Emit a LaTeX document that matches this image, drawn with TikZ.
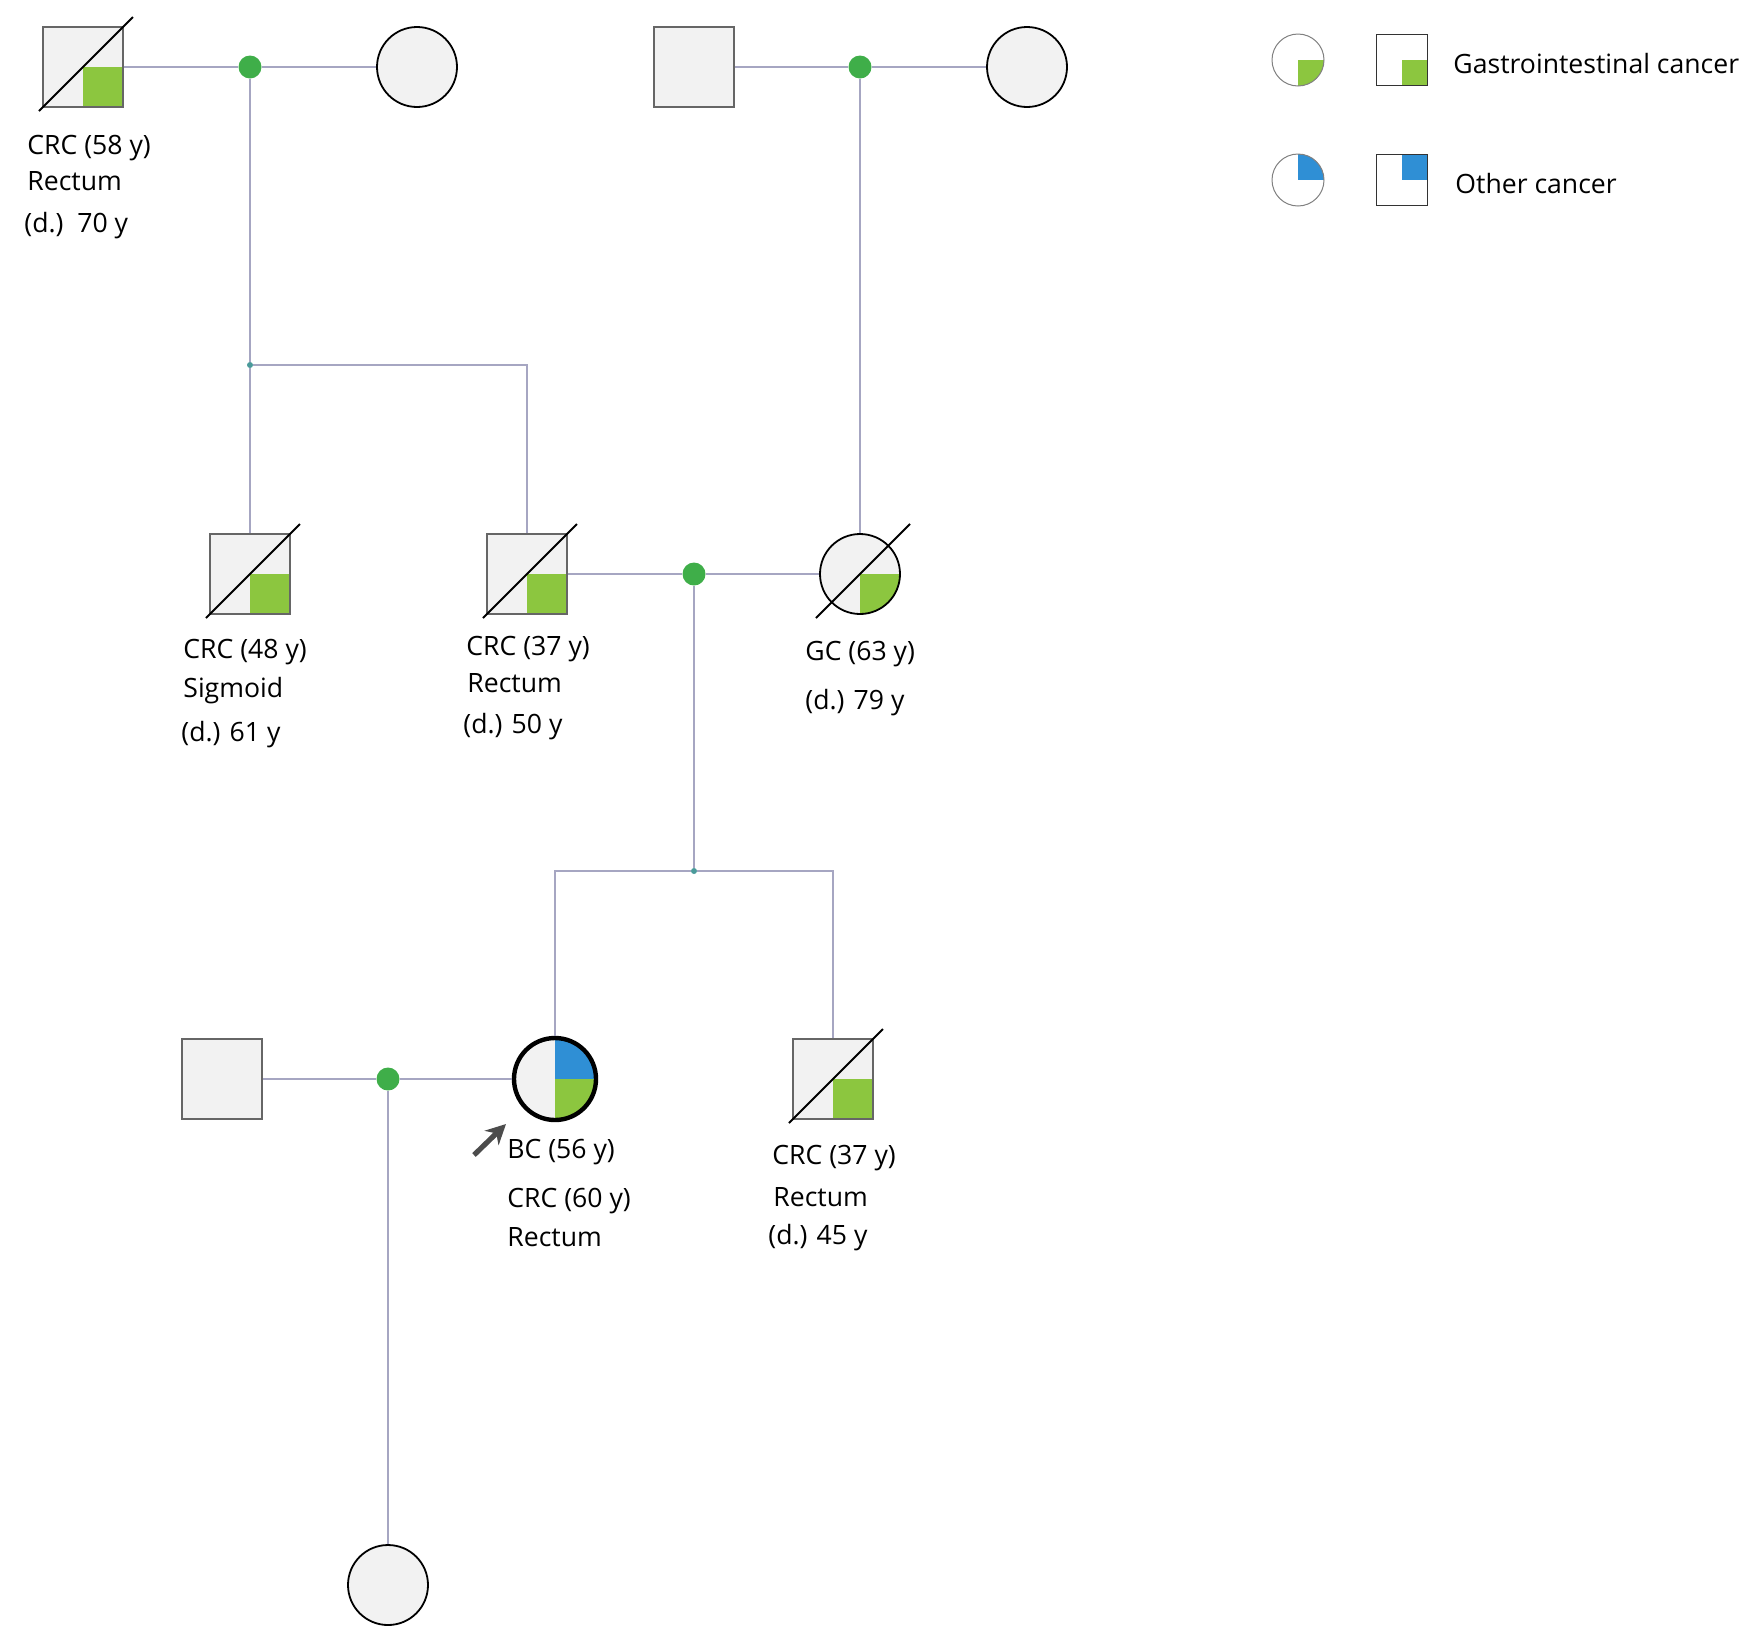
\documentclass[tikz,border=0pt]{standalone}
\usepackage{fontspec}
\setmainfont{Open Sans}
\usetikzlibrary{arrows.meta}
\definecolor{gicol}{HTML}{8CC63F}
\definecolor{othercol}{HTML}{2F8FD5}
\definecolor{dotcol}{HTML}{3FAE49}
\definecolor{sibcol}{HTML}{4A9A9A}
\definecolor{linecol}{HTML}{A6A6C2}
\definecolor{boxcol}{HTML}{666666}
\definecolor{shapefill}{HTML}{F2F2F2}
\tikzset{
  malebox/.style={rectangle, draw=boxcol, line width=1.2pt, fill=shapefill, minimum size=40pt, inner sep=0pt},
  femalecirc/.style={circle, draw=black, line width=0.9pt, fill=shapefill, minimum size=40pt, inner sep=0pt},
  gi/.style={path picture={\fill[gicol] (path picture bounding box.center) rectangle (path picture bounding box.south east);}},
  gioth/.style={path picture={\fill[gicol] (path picture bounding box.center) rectangle (path picture bounding box.south east);
    \fill[othercol] (path picture bounding box.center) rectangle (path picture bounding box.north east);}},
  proband/.style={line width=2.2pt, minimum size=41pt},
  keycirc/.style={circle, draw=gray, line width=0.5pt, fill=white, minimum size=26pt, inner sep=0pt},
  keybox/.style={rectangle, draw=black!80, line width=0.6pt, fill=white, minimum size=25.5pt, inner sep=0pt},
  keyoth/.style={path picture={\fill[othercol] (path picture bounding box.center) rectangle (path picture bounding box.north east);}},
  mdot/.style={circle, fill=dotcol, minimum size=11.5pt, inner sep=0pt},
  sibdot/.style={circle, fill=sibcol, minimum size=3pt, inner sep=0pt},
  pline/.style={draw=linecol, line width=1.2pt},
  slash/.style={line width=1pt, black},
  lbl/.style={anchor=base west, inner sep=0pt, font=\fontsize{13.3}{16}\selectfont}
}
\newcommand{\deceased}[1]{\draw[slash] ([shift={(-44,44)}]#1.center) -- ([shift={(50,-50)}]#1.center);}
\begin{document}
\begin{tikzpicture}[x=0.5pt,y=-0.5pt]
\useasboundingbox (0,0) rectangle (1750,1639);

% generation I
\node[malebox,gi] (i1) at (83,67) {};
\node[femalecirc] (i2) at (417,67) {};
\node[malebox] (i3) at (694,67) {};
\node[femalecirc] (i4) at (1027,67) {};
\node[mdot] (m1) at (250,67) {};
\node[mdot] (m3) at (860,67) {};
\deceased{i1}

% generation II
\node[sibdot] (s1) at (250,365) {};
\node[malebox,gi] (ii1) at (250,574) {};
\node[malebox,gi] (ii2) at (527,574) {};
\node[femalecirc,gi] (ii3) at (860,574) {};
\node[mdot] (m2) at (694,574) {};
\deceased{ii1}
\deceased{ii2}
\deceased{ii3}

% generation III
\node[sibdot] (s2) at (694,871) {};
\node[malebox] (iii1) at (222,1079) {};
\node[femalecirc,gioth,proband] (iii2) at (555,1079) {};
\node[malebox,gi] (iii3) at (833,1079) {};
\node[mdot] (m4) at (388,1079) {};
\deceased{iii3}

% generation IV
\node[femalecirc] (iv1) at (388,1585) {};

% lines
\draw[pline] (i1) -- (m1) -- (i2);
\draw[pline] (i3) -- (m3) -- (i4);
\draw[pline] (m1) -- (s1) -- (ii1);
\draw[pline] (s1) -| (ii2);
\draw[pline] (m3) -- (ii3);
\draw[pline] (ii2) -- (m2) -- (ii3);
\draw[pline] (m2) -- (s2);
\draw[pline] (s2) -| (iii2);
\draw[pline] (s2) -| (iii3);
\draw[pline] (iii1) -- (m4) -- (iii2);
\draw[pline] (m4) -- (iv1);

% proband arrow
\coordinate (ptail) at (474,1155);
\coordinate (phead) at (506,1124);
\draw[-{Stealth[length=10pt,width=10pt]}, line width=2.6pt, black!70] (ptail) -- (phead);

% labels
\node[lbl] (t1a) at (27,154) {CRC (58 y)};
\node[lbl] (t1b) at (27,190) {Rectum};
\node[lbl] (t1c) at (24,232) {(d.)\ \ 70 y};
\node[lbl] (t2a) at (183,658) {CRC (48 y)};
\node[lbl] (t2b) at (183,697) {Sigmoid};
\node[lbl] (t2c) at (181,741) {(d.) 61 y};
\node[lbl] (t3a) at (466,655) {CRC (37 y)};
\node[lbl] (t3b) at (467,692) {Rectum};
\node[lbl] (t3c) at (463,733) {(d.) 50 y};
\node[lbl] (t4a) at (805,660) {GC (63 y)};
\node[lbl] (t4b) at (805,709) {(d.) 79 y};
\node[lbl] (t5a) at (507,1158) {BC (56 y)};
\node[lbl] (t5b) at (507,1207) {CRC (60 y)};
\node[lbl] (t5c) at (507,1246) {Rectum};
\node[lbl] (t6a) at (772,1164) {CRC (37 y)};
\node[lbl] (t6b) at (773,1206) {Rectum};
\node[lbl] (t6c) at (768,1244) {(d.) 45 y};

% legend
\node[keycirc,gi] (k1) at (1298,60) {};
\node[keybox,gi] (k2) at (1402,60) {};
\node[lbl] (k3) at (1453,73) {Gastrointestinal cancer};
\node[keycirc,keyoth] (k4) at (1298,180) {};
\node[keybox,keyoth] (k5) at (1402,180) {};
\node[lbl] (k6) at (1455,193) {Other cancer};
\end{tikzpicture}
\end{document}
